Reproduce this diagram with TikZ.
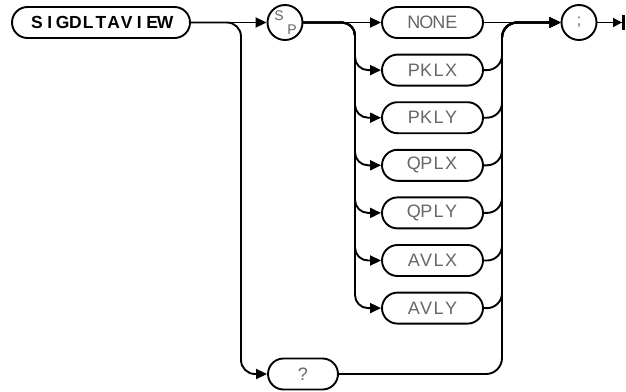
\documentclass[tikz,border=0pt]{standalone}
\usepackage{fontspec}
\usetikzlibrary{shapes.misc,arrows.meta}
\newfontfamily\hpfont{Liberation Sans}
\makeatletter
\newcommand\hpmono[2]{\@tfor\hpc:=#2\do{\makebox[#1][c]{\hpc}}}
\makeatother
\definecolor{txtgray}{gray}{0.4}
\begin{document}
\begin{tikzpicture}[x=1pt,y=-1pt,
  line width=1.9pt,
  box/.style={draw, rounded rectangle, minimum height=31pt, inner sep=0pt, line width=1.9pt},
  kw/.style={box, font=\hpfont\bfseries\fontsize{17.5}{17.5}\selectfont},
  opt/.style={box, minimum width=101pt, text=txtgray, font=\hpfont\fontsize{18}{18}\selectfont},
  circ/.style={draw, circle, minimum size=35pt, inner sep=0pt, line width=1.9pt},
  arr/.style={-{Triangle[length=11pt,width=10pt]}},
  rc/.style={rounded corners=13pt}]
\useasboundingbox (0,0) rectangle (626,391);

\node[kw, minimum width=178pt] (sig) at (101,22.5) {\hpmono{12.8pt}{SIGDLTAVIEW}};
\node[circ] (sp) at (285,22.5) {};
\node[text=txtgray, font=\hpfont\fontsize{14}{14}\selectfont, inner sep=0pt] (spS) at (279,16) {S};
\node[text=txtgray, font=\hpfont\fontsize{14}{14}\selectfont, inner sep=0pt] (spP) at (292,30) {P};

\node[opt] (o0) at (432.5,22.5) {\hpmono{12.5pt}{NONE}};
\node[opt] (o1) at (432.5,70.1) {\hpmono{12.5pt}{PKLX}};
\node[opt] (o2) at (432.5,117.7) {\hpmono{12.5pt}{PKLY}};
\node[opt] (o3) at (432.5,165.3) {\hpmono{12.5pt}{QPLX}};
\node[opt] (o4) at (432.5,212.9) {\hpmono{12.5pt}{QPLY}};
\node[opt] (o5) at (432.5,260.5) {\hpmono{12.5pt}{AVLX}};
\node[opt] (o6) at (432.5,308.1) {\hpmono{12.5pt}{AVLY}};

\node[box, minimum width=70pt, text=txtgray, font=\hpfont\fontsize{18}{18}\selectfont] (q) at (303,374) {?};

\node[circ] (semi) at (579,22.5) {};
\node[text=txtgray, font=\hpfont\fontsize{16}{16}\selectfont, inner sep=0pt] (semiT) at (579,22.5) {;};
\coordinate (end) at (624.5,22.5);

% main line
\draw[arr] (sig.east) -- (sp.west);
\draw[arr, rounded corners=14pt] (sig.east) -| (241,374) -- (q.west);

% options
\draw[arr] (sp.east) -- (o0.west);
\foreach \i in {1,...,6}{
  \draw[arr, rc] (sp.east) -| (355,0|-o\i.west) -- (o\i.west);
  \draw[arr, rounded corners=15pt] (o\i.east) -| (502,22.5) -- (semi.west);
}
\draw[arr] (o0.east) -- (semi.west);
\draw[arr, rounded corners=16pt] (q.east) -| (502,22.5) -- (semi.west);

% end
\draw[-{Triangle[length=9pt,width=9pt] Bar[width=15pt,line width=2.5pt]}] (semi.east) -- (end);
\end{tikzpicture}
\end{document}
